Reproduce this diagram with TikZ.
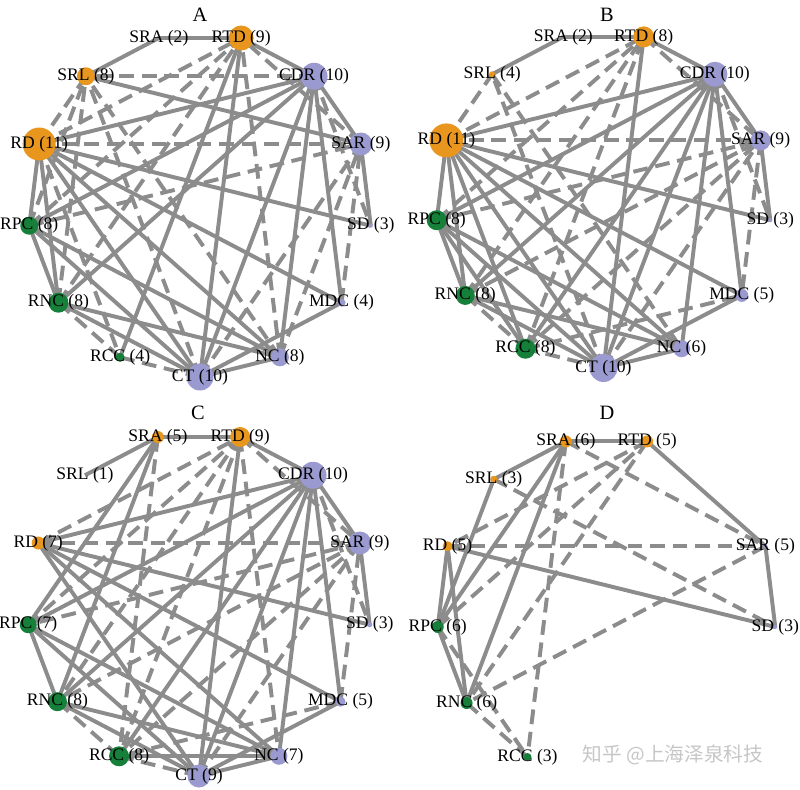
\documentclass[tikz,border=0pt]{standalone}
\usepackage{fontspec}
\setmainfont{Liberation Serif}
\newfontfamily\cjkfont{Noto Sans CJK SC}
\usetikzlibrary{calc}
\definecolor{edgegray}{HTML}{8C8C8C}
\definecolor{netorange}{HTML}{E8961E}
\definecolor{netlav}{HTML}{9A9AD0}
\definecolor{netgreen}{HTML}{16803A}
\definecolor{markgray}{HTML}{C6C6C6}

\begin{document}
\begin{tikzpicture}[x=0.025cm,y=0.025cm,
    posedge/.style={edgegray,line width=2.8pt},
    negedge/.style={edgegray,line width=2.8pt,dash pattern=on 10.5pt off 5.5pt},
    dot/.style={circle,fill=#1,draw=none,inner sep=0pt},
    lab/.style={font=\fontsize{12.5}{14}\selectfont,inner sep=0pt},
    ttl/.style={font=\fontsize{14.5}{16}\selectfont,inner sep=0pt}]
  \useasboundingbox (0,0) rectangle (800,789);

  % 13 places on a circle in each panel
  \foreach \p/\cx/\cy/\r in {a/200/584/172, b/603.5/589/168, c/199/185/172, d/606.5/182.5/170}
    \foreach \n [count=\k from 0] in {CT,NC,MDC,SD,SAR,CDR,RTD,SRA,SRL,RD,RPC,RNC,RCC}
      \coordinate (\p-\n) at ($(\cx,\cy)+({-90+\k*360/13}:\r)$);

  % panel A
  \foreach \u/\v in {SRA/SRL, SRA/RTD, RD/CDR, RD/SD, RD/MDC, RD/NC, RD/CT, RD/RNC, RD/RPC,
      CT/RTD, CT/CDR, CT/MDC, CT/NC, CT/RNC, CT/RPC, CDR/RTD, CDR/SAR, CDR/MDC, CDR/NC,
      CDR/RNC, CDR/RPC, SD/SAR, RCC/RTD, NC/RNC, NC/RPC, RPC/RNC, SAR/SRL}
    \draw[posedge] (a-\u) -- (a-\v);
  \foreach \u/\v in {RD/RTD, RD/SAR, RD/RCC, RD/SRL, CT/SAR, CT/RCC, CT/SRL, CDR/SD, CDR/SRL,
      MDC/SAR, RCC/RNC, NC/RTD, NC/SAR, NC/SRL, RPC/RTD, RPC/SAR, RPC/SRL, SAR/RTD,
      RNC/RTD, RNC/SRL}
    \draw[negedge] (a-\u) -- (a-\v);

  % panel B
  \foreach \u/\v in {SRA/SRL, SRA/RTD, RD/CDR, RD/SD, RD/MDC, RD/NC, RD/CT, RD/RCC, RD/RNC,
      RD/RPC, CDR/RTD, CDR/SAR, CDR/MDC, CDR/NC, CDR/CT, CDR/RCC, CDR/RNC, CDR/RPC, SD/SAR,
      CT/RTD, CT/MDC, CT/NC, CT/RNC, CT/RPC, RPC/RNC, RPC/RCC, RPC/NC, RNC/NC}
    \draw[posedge] (b-\u) -- (b-\v);
  \foreach \u/\v in {RD/RTD, RD/SAR, RD/SRL, CDR/SD, CT/SAR, CT/RCC, CT/SRL, RPC/RTD, RPC/SAR,
      RNC/RCC, RNC/RTD, RNC/SAR, RCC/RTD, RCC/SAR, RCC/MDC, SAR/MDC, RTD/SAR, SRL/NC}
    \draw[negedge] (b-\u) -- (b-\v);

  % panel C
  \foreach \u/\v in {SRL/SRA, SRA/RTD, SRA/RPC, SRA/RNC, RD/SD, RD/MDC, RD/CDR, RD/NC, RD/CT,
      CDR/RTD, CDR/SAR, CDR/RPC, CDR/RNC, CDR/RCC, CDR/CT, CDR/NC, CDR/MDC, SD/SAR, MDC/CT,
      RTD/CT, NC/CT, NC/RCC, NC/RNC, NC/RPC, CT/RNC, CT/RPC, RNC/RPC}
    \draw[posedge] (c-\u) -- (c-\v);
  \foreach \u/\v in {SRA/RCC, RD/SAR, RD/RTD, CDR/SD, MDC/SAR, MDC/RCC, RTD/SAR, RTD/NC,
      RTD/RCC, RTD/RNC, RTD/RPC, SAR/CT, SAR/RCC, SAR/RNC, SAR/RPC, CT/RCC, RCC/RNC}
    \draw[negedge] (c-\u) -- (c-\v);

  % panel D
  \foreach \u/\v in {SRA/RTD, SRA/SRL, RTD/SAR, SAR/SD, RD/SD, RD/RPC, RD/RNC, RPC/RNC,
      SRA/RNC, RPC/SRA, RPC/SRL}
    \draw[posedge] (d-\u) -- (d-\v);
  \foreach \u/\v in {SRA/SAR, SRL/SD, RD/SAR, SAR/RNC, RTD/RNC, RNC/RCC, RPC/RTD, RPC/RCC,
      SRA/RCC, RTD/RD}
    \draw[negedge] (d-\u) -- (d-\v);

  % dots and labels: name/diameter/colour/degree
  \foreach \n/\s/\c/\d in {CT/27/netlav/10, NC/18/netlav/8, MDC/8/netlav/4, SD/4/netlav/3,
      SAR/23/netlav/9, CDR/27/netlav/10, RTD/25/netorange/9, SRA/0/netorange/2,
      SRL/18/netorange/8, RD/33/netorange/11, RPC/18/netgreen/8, RNC/20/netgreen/8,
      RCC/9/netgreen/4}{
    \node[dot=\c,minimum size=\s*0.7113pt] (a-\n-dot) at (a-\n) {};
    \node[lab] (a-\n-lab) at (a-\n) {\n\ (\d)};
  }
  \foreach \n/\s/\c/\d in {CT/28/netlav/10, NC/17/netlav/6, MDC/13/netlav/5, SD/4/netlav/3,
      SAR/20/netlav/9, CDR/25/netlav/10, RTD/21/netorange/8, SRA/0/netorange/2,
      SRL/6/netorange/4, RD/34/netorange/11, RPC/20/netgreen/8, RNC/19/netgreen/8,
      RCC/20/netgreen/8}{
    \node[dot=\c,minimum size=\s*0.7113pt] (b-\n-dot) at (b-\n) {};
    \node[lab] (b-\n-lab) at (b-\n) {\n\ (\d)};
  }
  \foreach \n/\s/\c/\d in {CT/23/netlav/9, NC/17/netlav/7, MDC/10/netlav/5, SD/5/netlav/3,
      SAR/23/netlav/9, CDR/27/netlav/10, RTD/20/netorange/9, SRA/12/netorange/5,
      SRL/0/netorange/1, RD/13/netorange/7, RPC/17/netgreen/7, RNC/19/netgreen/8,
      RCC/20/netgreen/8}{
    \node[dot=\c,minimum size=\s*0.7113pt] (c-\n-dot) at (c-\n) {};
    \node[lab] (c-\n-lab) at (c-\n) {\n\ (\d)};
  }
  \foreach \n/\s/\c/\d in {SD/4/netlav/3, SAR/4/netlav/5, RTD/12/netorange/5,
      SRA/12/netorange/6, SRL/7/netorange/3, RD/10/netorange/5, RPC/12/netgreen/6,
      RNC/12/netgreen/6, RCC/8/netgreen/3}{
    \node[dot=\c,minimum size=\s*0.7113pt] (d-\n-dot) at (d-\n) {};
    \node[lab] (d-\n-lab) at (d-\n) {\n\ (\d)};
  }

  \node[ttl] (a-title) at (200,774) {A};
  \node[ttl] (b-title) at (607,774) {B};
  \node[ttl] (c-title) at (198,376) {C};
  \node[ttl] (d-title) at (607,376) {D};

  \node[font=\cjkfont\fontsize{14}{16}\selectfont,text=markgray,inner sep=0pt] (mark) at (673,34) {知乎 @上海泽泉科技};
\end{tikzpicture}
\end{document}
